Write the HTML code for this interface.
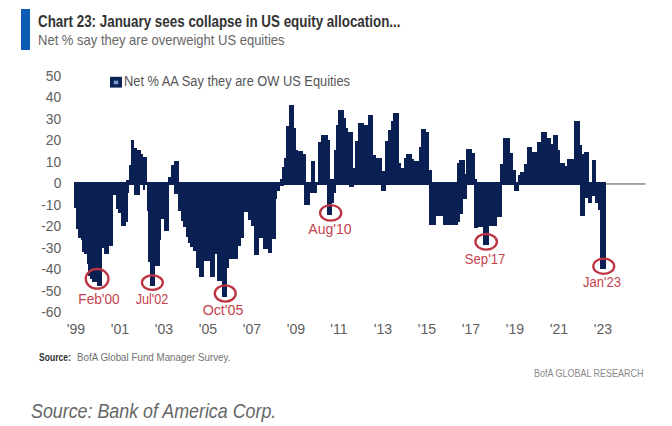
<!DOCTYPE html><html><head><meta charset="utf-8"><style>html,body{margin:0;padding:0;background:#fff;}body{width:672px;height:426px;position:relative;overflow:hidden;font-family:"Liberation Sans",sans-serif;}.t{position:absolute;white-space:nowrap;transform-origin:0 0;}</style></head><body><div style="position:absolute;left:20.9px;top:8.5px;width:8.9px;height:41.1px;background:#0d5ab4"></div><svg width="672" height="426" style="position:absolute;left:0;top:0"><rect x="605.5" y="183.3" width="40" height="1.3" fill="#7a7a7a"/><path d="M126.40 180.00H128.50V185.00H126.40ZM128.50 165.20H130.60V185.00H128.50ZM130.60 140.00H134.20V185.00H130.60ZM134.20 148.30H137.00V185.00H134.20ZM137.00 150.40H141.20V185.00H137.00ZM141.20 154.00H143.30V185.00H141.20ZM143.30 156.80H147.30V185.00H143.30ZM168.00 176.50H170.80V185.00H168.00ZM170.80 165.20H173.60V185.00H170.80ZM173.60 161.00H178.50V185.00H173.60ZM280.00 179.00H282.10V185.00H280.00ZM282.10 166.50H284.20V185.00H282.10ZM284.20 158.00H285.60V185.00H284.20ZM285.60 126.00H289.20V185.00H285.60ZM289.20 105.00H294.10V185.00H289.20ZM294.10 128.10H296.20V185.00H294.10ZM296.20 149.50H298.30V185.00H296.20ZM298.30 151.30H302.50V185.00H298.30ZM302.50 154.00H306.00V185.00H302.50ZM311.00 161.20H315.20V185.00H311.00ZM318.00 141.50H320.80V185.00H318.00ZM320.80 135.10H327.90V185.00H320.80ZM327.90 140.00H330.00V185.00H327.90ZM330.00 179.00H334.20V185.00H330.00ZM334.20 150.00H335.50V185.00H334.20ZM335.50 125.00H338.00V185.00H335.50ZM338.00 110.00H343.50V185.00H338.00ZM343.50 118.30H346.30V185.00H343.50ZM346.30 128.20H348.40V185.00H346.30ZM348.40 132.40H352.60V185.00H348.40ZM352.60 167.50H355.40V185.00H352.60ZM355.40 140.80H358.20V185.00H355.40ZM358.20 122.50H363.90V185.00H358.20ZM363.90 124.60H368.10V185.00H363.90ZM368.10 114.80H373.00V185.00H368.10ZM373.00 154.50H375.80V185.00H373.00ZM375.80 158.00H381.50V185.00H375.80ZM381.50 171.00H385.00V185.00H381.50ZM385.00 140.80H387.80V185.00H385.00ZM387.80 129.60H390.60V185.00H387.80ZM390.60 121.00H392.70V185.00H390.60ZM392.70 112.70H398.50V185.00H392.70ZM398.50 163.30H400.60V185.00H398.50ZM400.60 167.50H404.10V185.00H400.60ZM404.10 158.00H406.20V185.00H404.10ZM406.20 154.00H411.80V185.00H406.20ZM411.80 159.00H414.00V185.00H411.80ZM414.00 161.20H418.90V185.00H414.00ZM418.90 146.50H421.00V185.00H418.90ZM421.00 128.90H425.90V185.00H421.00ZM425.90 131.70H429.40V185.00H425.90ZM429.40 170.40H431.50V185.00H429.40ZM457.10 163.20H459.20V185.00H457.10ZM459.20 159.70H464.90V185.00H459.20ZM464.90 173.80H466.30V185.00H464.90ZM466.30 149.20H471.90V185.00H466.30ZM471.90 153.40H474.70V185.00H471.90ZM474.70 179.40H476.80V185.00H474.70ZM500.00 164.00H503.40V185.00H500.00ZM503.40 138.20H510.40V185.00H503.40ZM510.40 153.00H513.20V185.00H510.40ZM513.20 169.70H515.60V185.00H513.20ZM518.00 174.60H520.20V185.00H518.00ZM520.20 171.80H523.80V185.00H520.20ZM523.80 163.50H527.30V185.00H523.80ZM527.30 146.60H532.30V185.00H527.30ZM532.30 152.30H536.50V185.00H532.30ZM536.50 141.70H541.40V185.00H536.50ZM541.40 131.50H547.00V185.00H541.40ZM547.00 138.20H550.60V185.00H547.00ZM550.60 143.80H552.70V185.00H550.60ZM552.70 134.60H557.70V185.00H552.70ZM557.70 150.10H559.80V185.00H557.70ZM559.80 162.80H564.70V185.00H559.80ZM564.70 166.30H566.80V185.00H564.70ZM566.80 159.30H569.60V185.00H566.80ZM569.60 158.60H573.90V185.00H569.60ZM573.90 121.30H579.50V185.00H573.90ZM579.50 145.20H582.30V185.00H579.50ZM582.30 153.70H583.70V185.00H582.30ZM583.70 152.20H588.70V185.00H583.70ZM591.50 160.00H595.70V185.00H591.50ZM74.10 182.00H75.50V207.70H74.10ZM75.50 182.00H78.30V229.00H75.50ZM78.30 182.00H80.50V237.80H78.30ZM80.50 182.00H82.30V240.20H80.50ZM82.30 182.00H84.20V252.40H82.30ZM84.20 182.00H87.00V253.80H84.20ZM87.00 182.00H88.40V263.60H87.00ZM88.40 182.00H90.00V276.30H88.40ZM90.00 182.00H91.90V279.10H90.00ZM91.90 182.00H93.30V281.60H91.90ZM93.30 182.00H96.80V282.30H93.30ZM96.80 182.00H101.70V285.60H96.80ZM101.70 182.00H104.00V248.10H101.70ZM104.00 182.00H109.10V254.20H104.00ZM109.10 182.00H112.80V245.80H109.10ZM112.80 182.00H115.70V194.70H112.80ZM115.70 182.00H117.50V208.80H115.70ZM117.50 182.00H120.60V213.00H117.50ZM120.60 182.00H125.50V226.40H120.60ZM125.50 182.00H127.60V221.50H125.50ZM127.60 182.00H129.00V193.00H127.60ZM134.20 182.00H139.80V194.80H134.20ZM142.60 182.00H145.40V190.00H142.60ZM146.80 182.00H148.20V211.00H146.80ZM148.20 182.00H150.40V261.70H148.20ZM150.40 182.00H155.30V285.60H150.40ZM155.30 182.00H159.50V266.00H155.30ZM159.50 182.00H161.00V240.00H159.50ZM161.00 182.00H163.70V219.40H161.00ZM163.70 182.00H169.40V230.50H163.70ZM173.60 182.00H177.80V194.00H173.60ZM177.80 182.00H181.30V210.50H177.80ZM181.30 182.00H182.80V221.00H181.30ZM182.80 182.00H185.60V227.40H182.80ZM185.60 182.00H187.70V237.30H185.60ZM187.70 182.00H189.90V243.00H187.70ZM189.90 182.00H192.70V247.00H189.90ZM192.70 182.00H196.20V251.30H192.70ZM196.20 182.00H199.00V268.20H196.20ZM199.00 182.00H204.00V276.70H199.00ZM204.00 182.00H209.60V260.50H204.00ZM209.60 182.00H214.50V276.70H209.60ZM214.50 182.00H217.30V253.50H214.50ZM217.30 182.00H221.50V281.00H217.30ZM221.50 182.00H226.50V297.00H221.50ZM226.50 182.00H229.30V267.50H226.50ZM229.30 182.00H237.70V259.00H229.30ZM237.70 182.00H241.30V246.30H237.70ZM241.30 182.00H244.00V237.80H241.30ZM244.00 182.00H248.10V212.20H244.00ZM248.10 182.00H251.00V219.70H248.10ZM251.00 182.00H253.80V226.30H251.00ZM253.80 182.00H259.00V255.40H253.80ZM259.00 182.00H263.20V237.80H259.00ZM263.20 182.00H268.10V249.00H263.20ZM268.10 182.00H272.30V253.30H268.10ZM272.30 182.00H275.80V239.20H272.30ZM275.80 182.00H277.30V198.50H275.80ZM277.30 182.00H280.00V191.00H277.30ZM280.00 182.00H283.60V186.00H280.00ZM303.50 182.00H309.80V205.40H303.50ZM309.80 182.00H316.80V193.00H309.80ZM326.70 182.00H332.30V214.50H326.70ZM332.30 182.00H334.00V202.50H332.30ZM334.00 182.00H336.40V193.00H334.00ZM349.00 182.00H354.00V186.50H349.00ZM380.70 182.00H385.60V190.50H380.70ZM428.60 182.00H436.30V224.50H428.60ZM436.30 182.00H443.30V215.50H436.30ZM443.30 182.00H458.10V225.00H443.30ZM458.10 182.00H459.50V221.50H458.10ZM459.50 182.00H463.00V213.70H459.50ZM463.00 182.00H467.30V199.30H463.00ZM474.00 182.00H478.30V228.00H474.00ZM478.30 182.00H482.50V227.30H478.30ZM482.50 182.00H488.50V244.60H482.50ZM488.50 182.00H491.60V226.00H488.50ZM491.60 182.00H497.30V226.00H491.60ZM497.30 182.00H502.30V216.70H497.30ZM514.20 182.00H519.10V190.70H514.20ZM579.70 182.00H585.40V215.90H579.70ZM585.40 182.00H587.50V198.30H585.40ZM587.50 182.00H591.70V202.50H587.50ZM591.70 182.00H594.50V196.20H591.70ZM594.50 182.00H598.00V203.20H594.50ZM598.00 182.00H600.10V209.60H598.00ZM600.10 182.00H605.50V269.40H600.10ZM74.1 182.0H605.5V185.0H74.1Z" fill="#0a2052" shape-rendering="crispEdges"/><rect x="110" y="76.8" width="12" height="10.8" fill="#0d2356"/><rect x="113.8" y="80.7" width="4.4" height="3.5" fill="#7d9cd8"/><ellipse cx="97.1" cy="278.8" rx="11.35" ry="9.85" fill="none" stroke="#bc3441" stroke-width="2.3"/><ellipse cx="152.35" cy="282.6" rx="10.45" ry="7.2" fill="none" stroke="#bc3441" stroke-width="2.3"/><ellipse cx="225.25" cy="293.5" rx="10.45" ry="8.1" fill="none" stroke="#bc3441" stroke-width="2.3"/><ellipse cx="330.7" cy="212.9" rx="10.6" ry="7.8" fill="none" stroke="#bc3441" stroke-width="2.3"/><ellipse cx="486.15" cy="241.8" rx="10.75" ry="7.8" fill="none" stroke="#bc3441" stroke-width="2.3"/><ellipse cx="603.75" cy="266.25" rx="10.45" ry="7.65" fill="none" stroke="#bc3441" stroke-width="2.3"/></svg><div class="t" id="t0" style="font-size:16.38px;line-height:16.38px;top:12.96px;color:#333333;font-weight:bold;left:37.5px;transform:scaleX(0.8187);">Chart 23: January sees collapse in US equity allocation...</div><div class="t" id="t1" style="font-size:14.78px;line-height:14.78px;top:32.61px;color:#666666;left:37.5px;transform:scaleX(0.8808);">Net % say they are overweight US equities</div><div class="t" id="t2" style="font-size:14.49px;line-height:14.49px;top:74.45px;color:#555555;left:124px;transform:scaleX(0.8856);">Net % AA Say they are OW US Equities</div><div class="t" id="t3" style="font-size:11.01px;line-height:11.01px;top:352.19px;color:#333333;font-weight:bold;left:38.8px;transform:scaleX(0.7762);">Source:</div><div class="t" id="t4" style="font-size:11.01px;line-height:11.01px;top:352.19px;color:#707070;left:77.0px;transform:scaleX(0.8906);">BofA Global Fund Manager Survey.</div><div class="t" id="t5" style="font-size:11.45px;line-height:11.45px;top:367.53px;color:#888888;left:533.5px;transform:scaleX(0.7847);">BofA GLOBAL RESEARCH</div><div class="t" id="t6" style="font-size:19.42px;line-height:19.42px;top:401.59px;color:#666666;font-style:italic;left:31.2px;transform:scaleX(0.9195);">Source: Bank of America Corp.</div><div class="t" id="t7" style="font-size:15.36px;line-height:15.36px;top:67.92px;color:#5e5e5e;right:610.8px;transform-origin:100% 0;transform:scaleX(0.9000);">50</div><div class="t" id="t8" style="font-size:15.36px;line-height:15.36px;top:89.42px;color:#5e5e5e;right:610.8px;transform-origin:100% 0;transform:scaleX(0.9000);">40</div><div class="t" id="t9" style="font-size:15.36px;line-height:15.36px;top:110.92px;color:#5e5e5e;right:610.8px;transform-origin:100% 0;transform:scaleX(0.9000);">30</div><div class="t" id="t10" style="font-size:15.36px;line-height:15.36px;top:132.42px;color:#5e5e5e;right:610.8px;transform-origin:100% 0;transform:scaleX(0.9000);">20</div><div class="t" id="t11" style="font-size:15.36px;line-height:15.36px;top:153.92px;color:#5e5e5e;right:610.8px;transform-origin:100% 0;transform:scaleX(0.9000);">10</div><div class="t" id="t12" style="font-size:15.36px;line-height:15.36px;top:175.42px;color:#5e5e5e;right:610.8px;transform-origin:100% 0;transform:scaleX(0.9000);">0</div><div class="t" id="t13" style="font-size:15.36px;line-height:15.36px;top:196.92px;color:#5e5e5e;right:610.8px;transform-origin:100% 0;transform:scaleX(0.9000);">-10</div><div class="t" id="t14" style="font-size:15.36px;line-height:15.36px;top:218.42px;color:#5e5e5e;right:610.8px;transform-origin:100% 0;transform:scaleX(0.9000);">-20</div><div class="t" id="t15" style="font-size:15.36px;line-height:15.36px;top:239.92px;color:#5e5e5e;right:610.8px;transform-origin:100% 0;transform:scaleX(0.9000);">-30</div><div class="t" id="t16" style="font-size:15.36px;line-height:15.36px;top:261.42px;color:#5e5e5e;right:610.8px;transform-origin:100% 0;transform:scaleX(0.9000);">-40</div><div class="t" id="t17" style="font-size:15.36px;line-height:15.36px;top:282.92px;color:#5e5e5e;right:610.8px;transform-origin:100% 0;transform:scaleX(0.9000);">-50</div><div class="t" id="t18" style="font-size:15.36px;line-height:15.36px;top:304.42px;color:#5e5e5e;right:610.8px;transform-origin:100% 0;transform:scaleX(0.9000);">-60</div><div class="t" id="t19" style="font-size:15.51px;line-height:15.51px;top:321.30px;color:#5e5e5e;left:76.0px;transform-origin:0 0;transform:scaleX(0.9100) translateX(-50%);">'99</div><div class="t" id="t20" style="font-size:15.51px;line-height:15.51px;top:321.30px;color:#5e5e5e;left:119.9px;transform-origin:0 0;transform:scaleX(0.9100) translateX(-50%);">'01</div><div class="t" id="t21" style="font-size:15.51px;line-height:15.51px;top:321.30px;color:#5e5e5e;left:163.8px;transform-origin:0 0;transform:scaleX(0.9100) translateX(-50%);">'03</div><div class="t" id="t22" style="font-size:15.51px;line-height:15.51px;top:321.30px;color:#5e5e5e;left:207.7px;transform-origin:0 0;transform:scaleX(0.9100) translateX(-50%);">'05</div><div class="t" id="t23" style="font-size:15.51px;line-height:15.51px;top:321.30px;color:#5e5e5e;left:251.6px;transform-origin:0 0;transform:scaleX(0.9100) translateX(-50%);">'07</div><div class="t" id="t24" style="font-size:15.51px;line-height:15.51px;top:321.30px;color:#5e5e5e;left:295.5px;transform-origin:0 0;transform:scaleX(0.9100) translateX(-50%);">'09</div><div class="t" id="t25" style="font-size:15.51px;line-height:15.51px;top:321.30px;color:#5e5e5e;left:339.4px;transform-origin:0 0;transform:scaleX(0.9100) translateX(-50%);">'11</div><div class="t" id="t26" style="font-size:15.51px;line-height:15.51px;top:321.30px;color:#5e5e5e;left:383.3px;transform-origin:0 0;transform:scaleX(0.9100) translateX(-50%);">'13</div><div class="t" id="t27" style="font-size:15.51px;line-height:15.51px;top:321.30px;color:#5e5e5e;left:427.2px;transform-origin:0 0;transform:scaleX(0.9100) translateX(-50%);">'15</div><div class="t" id="t28" style="font-size:15.51px;line-height:15.51px;top:321.30px;color:#5e5e5e;left:471.09999999999997px;transform-origin:0 0;transform:scaleX(0.9100) translateX(-50%);">'17</div><div class="t" id="t29" style="font-size:15.51px;line-height:15.51px;top:321.30px;color:#5e5e5e;left:515.0px;transform-origin:0 0;transform:scaleX(0.9100) translateX(-50%);">'19</div><div class="t" id="t30" style="font-size:15.51px;line-height:15.51px;top:321.30px;color:#5e5e5e;left:558.9px;transform-origin:0 0;transform:scaleX(0.9100) translateX(-50%);">'21</div><div class="t" id="t31" style="font-size:15.51px;line-height:15.51px;top:321.30px;color:#5e5e5e;left:602.8px;transform-origin:0 0;transform:scaleX(0.9100) translateX(-50%);">'23</div><div class="t" id="t32" style="font-size:15.07px;line-height:15.07px;top:291.26px;color:#c4424e;left:99.35px;transform-origin:0 0;transform:scaleX(0.9058) translateX(-50%);">Feb'00</div><div class="t" id="t33" style="font-size:15.07px;line-height:15.07px;top:291.26px;color:#c4424e;left:151.85px;transform-origin:0 0;transform:scaleX(0.8408) translateX(-50%);">Jul'02</div><div class="t" id="t34" style="font-size:15.51px;line-height:15.51px;top:302.00px;color:#c4424e;left:223.35px;transform-origin:0 0;transform:scaleX(0.9182) translateX(-50%);">Oct'05</div><div class="t" id="t35" style="font-size:15.29px;line-height:15.29px;top:220.83px;color:#c4424e;left:329.65px;transform-origin:0 0;transform:scaleX(0.9191) translateX(-50%);">Aug'10</div><div class="t" id="t36" style="font-size:15.29px;line-height:15.29px;top:250.83px;color:#c4424e;left:484.7px;transform-origin:0 0;transform:scaleX(0.8618) translateX(-50%);">Sep'17</div><div class="t" id="t37" style="font-size:14.93px;line-height:14.93px;top:274.59px;color:#c4424e;left:601.55px;transform-origin:0 0;transform:scaleX(0.8710) translateX(-50%);">Jan'23</div></body></html>
